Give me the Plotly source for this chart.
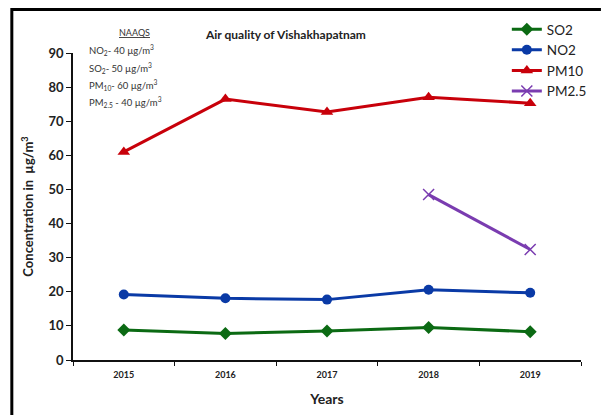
import plotly.graph_objects as go

# Annual mean concentrations (µg/m³) at Vishakhapatnam
years = ["2015", "2016", "2017", "2018", "2019"]
so2 = [8.8, 7.8, 8.5, 9.5, 8.3]
no2 = [19.2, 18.1, 17.7, 20.6, 19.7]
pm10 = [61.0, 76.5, 72.7, 77.0, 75.3]
pm25 = [None, None, None, 48.5, 32.4]

naaqs_lines = [
    "NO<sub>2</sub>- 40 µg/m<sup>3</sup>",
    "SO<sub>2</sub>- 50 µg/m<sup>3</sup>",
    "PM<sub>10</sub>- 60 µg/m<sup>3</sup>",
    "PM<sub>2.5</sub> - 40 µg/m<sup>3</sup>",
]

FONT = "Lato, 'Open Sans', sans-serif"

fig = go.Figure()
fig.add_trace(go.Scatter(x=years, y=so2, name="SO2", mode="lines+markers",
                         line=dict(color="#0b6a13", width=3),
                         marker=dict(symbol="diamond", size=10, color="#0b6a13")))
fig.add_trace(go.Scatter(x=years, y=no2, name="NO2", mode="lines+markers",
                         line=dict(color="#0a3aa6", width=3),
                         marker=dict(symbol="circle", size=10, color="#0a3aa6")))
fig.add_trace(go.Scatter(x=years, y=pm10, name="PM10", mode="lines+markers",
                         line=dict(color="#c8000a", width=3),
                         marker=dict(symbol="triangle-up", size=11, color="#c8000a")))
fig.add_trace(go.Scatter(x=years, y=pm25, name="PM2.5", mode="lines+markers",
                         line=dict(color="#7a3cb0", width=3),
                         marker=dict(symbol="x-thin-open", size=11,
                                     line=dict(color="#8a5cc0", width=1.5))))

fig.update_layout(
    width=602, height=415,
    margin=dict(l=73, r=10, t=53, b=55),
    paper_bgcolor="white", plot_bgcolor="white",
    font=dict(family=FONT, color="#222"),
    showlegend=True,
    legend=dict(x=0.854, y=1.127, xanchor="left", yanchor="top",
                font=dict(size=13.5, color="#222"), bgcolor="rgba(0,0,0,0)",
                tracegroupgap=0, itemwidth=30),
    xaxis=dict(type="category", range=[-0.5, 4.5], showline=True,
               linecolor="#111", linewidth=1.5, ticks="outside", ticklen=4,
               tickcolor="#111", tickson="boundaries", showgrid=False,
               ticklabelstandoff=5,
               tickfont=dict(size=9, family=FONT, color="#222", weight="bold"),
               title=dict(text="Years", font=dict(size=14, weight="bold"), standoff=16)),
    yaxis=dict(range=[0, 90], dtick=10, showline=True, linecolor="#111",
               linewidth=1.5, ticks="outside", ticklen=5, tickcolor="#111",
               showgrid=False, zeroline=False,
               tickfont=dict(size=13, family=FONT, color="#222", weight="bold"),
               title=dict(text="Concentration in  µg/m<sup>3</sup>",
                          font=dict(size=13, weight="bold"), standoff=12)),
)

# Title
fig.add_annotation(text="Air quality of Vishakhapatnam", xref="paper", yref="paper",
                   x=(290 - 73) / 519, y=(360 - 35) / 307, showarrow=False,
                   font=dict(size=12, color="#222", weight="bold"),
                   xanchor="center", yanchor="middle")

# NAAQS standards box
fig.add_annotation(text="<u>NAAQS</u>", xref="paper", yref="paper",
                   x=(136 - 73) / 519, y=(360 - 33) / 307, showarrow=False,
                   font=dict(size=9, color="#333"), xanchor="center", yanchor="middle")
for i, t in enumerate(naaqs_lines):
    fig.add_annotation(text=t, xref="paper", yref="paper",
                       x=(87 - 73) / 519, y=(360 - (50 + 17.5 * i)) / 307,
                       showarrow=False, font=dict(size=9.5, color="#333"),
                       xanchor="left", yanchor="middle")

# Outer frame (top and left edges)
fig.add_shape(type="line", xref="paper", yref="paper",
              x0=(10 - 73) / 519, x1=(602 - 73) / 519 + 0.02,
              y0=(360 - 9.5) / 307, y1=(360 - 9.5) / 307,
              line=dict(color="black", width=3))
fig.add_shape(type="line", xref="paper", yref="paper",
              x0=(10.5 - 73) / 519, x1=(10.5 - 73) / 519,
              y0=(360 - 8) / 307, y1=(360 - 420) / 307,
              line=dict(color="black", width=3))

fig.write_html("out.html")
